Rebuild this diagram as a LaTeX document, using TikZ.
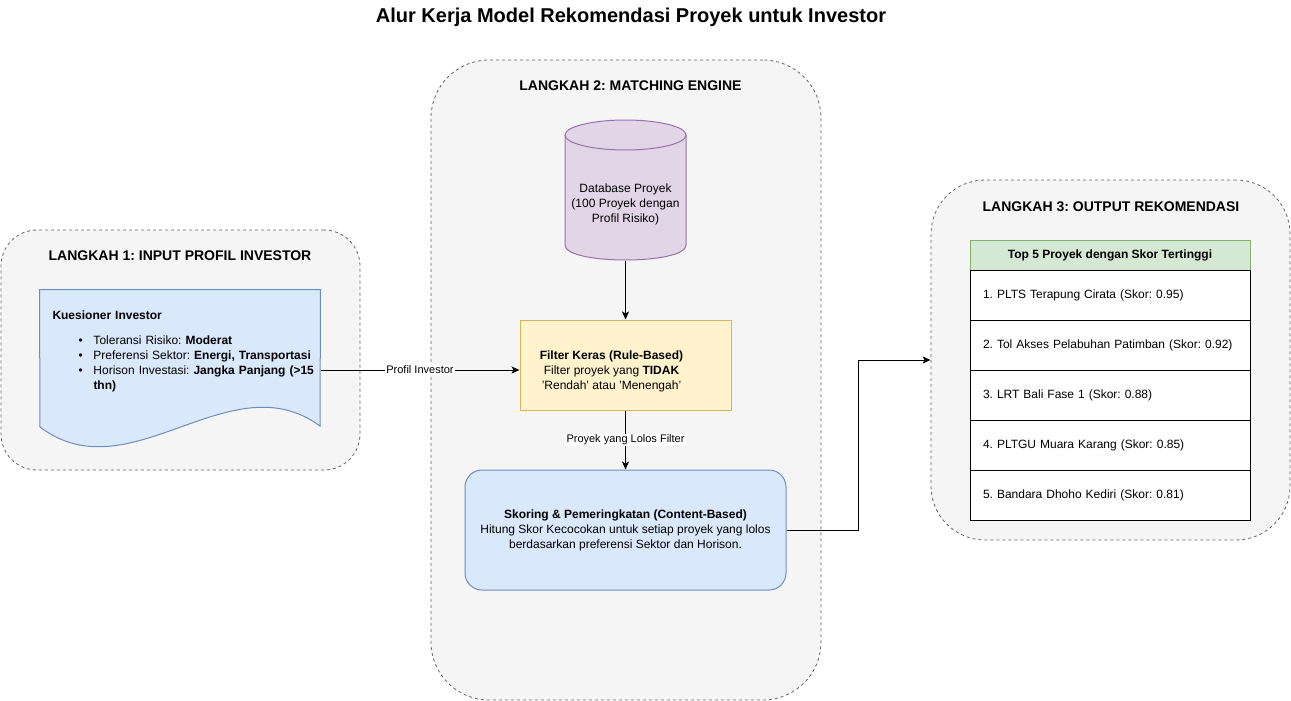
\documentclass[tikz,border=0pt]{standalone}
\usepackage{fontspec}
\setmainfont{Liberation Sans}
\usetikzlibrary{positioning,arrows.meta}
\frenchspacing
\definecolor{stepfill}{HTML}{F5F5F5}
\definecolor{stepline}{HTML}{666666}
\definecolor{bluefill}{HTML}{DAE8FC}
\definecolor{blueline}{HTML}{6C8EBF}
\definecolor{purplefill}{HTML}{E1D5E7}
\definecolor{purpleline}{HTML}{9673A6}
\definecolor{yellowfill}{HTML}{FFF2CC}
\definecolor{yellowline}{HTML}{D6B656}
\definecolor{greenfill}{HTML}{D5E8D4}
\definecolor{greenline}{HTML}{82B366}
\begin{document}
\begin{tikzpicture}[x=1pt, y=-1pt, line width=1pt,
    >={Stealth[length=8pt,width=7pt,inset=2pt]},
    font=\fontsize{12}{15}\selectfont,
    stepbox/.style={draw=stepline, fill=stepfill, line width=0.8pt, dash pattern=on 3pt off 3pt, rounded corners=#1},
    steptitle/.style={font=\fontsize{14}{17}\selectfont\bfseries},
    edgelabel/.style={fill=white, inner sep=1pt, font=\fontsize{11}{13}\selectfont},
    rowbox/.style={draw=black, fill=white, outer sep=0pt, minimum width=280pt, minimum height=50pt, text width=254pt, inner xsep=13pt, align=left}]
  \useasboundingbox (0,0) rectangle (1291,701);
  \node (title) at (631,17) {\fontsize{20}{24}\selectfont\bfseries Alur Kerja Model Rekomendasi Proyek untuk Investor};

  % langkah 1
  \node (step1) [stepbox=36pt, minimum width=359pt, minimum height=240pt] at (180.5,350) {};
  \node (step1title) [steptitle] at (180,256) {LANGKAH 1: INPUT PROFIL INVESTOR};
  \node (doc) [minimum width=280pt, minimum height=160pt, inner sep=0pt] at (180,370) {};
  \draw[draw=blueline, fill=bluefill] (doc.north west) -- (doc.north east) -- (320,426)
    .. controls (230,360) and (130,495) .. (40,427) -- cycle;
  \node (doctext) [anchor=north west, text width=265pt, inner sep=0pt, align=left] at (52,310.5)
    {\textbf{Kuesioner Investor}\\[10pt]
     \hspace*{26pt}\makebox[15pt][l]{\textbullet}Toleransi Risiko: \textbf{Moderat}\\
     \hspace*{26pt}\makebox[15pt][l]{\textbullet}Preferensi Sektor: \textbf{Energi, Transportasi}\\
     \hspace*{26pt}\makebox[15pt][l]{\textbullet}Horison Investasi: \textbf{Jangka Panjang (>15}\\
     \hspace*{41pt}\textbf{thn)}};

  % langkah 2
  \node (step2) [stepbox=58pt, minimum width=390pt, minimum height=640pt] at (626,380) {};
  \node (step2title) [steptitle] at (630.5,86) {LANGKAH 2: MATCHING ENGINE};
  \node (db) [minimum width=121pt, minimum height=140pt, inner sep=0pt] at (625.5,190) {};
  \draw[draw=purpleline, fill=purplefill] (565,135) -- (565,245)
    .. controls (565,265) and (686,265) .. (686,245) -- (686,135) -- cycle;
  \draw[draw=purpleline, fill=purplefill] (625.5,135) ellipse [x radius=60.5, y radius=15];
  \node (dbtext) [align=center] at (625.5,204) {Database Proyek\\(100 Proyek dengan\\Profil Risiko)};
  \node (filter) [draw=yellowline, fill=yellowfill, minimum width=211pt, minimum height=90pt] at (625.5,365) {};
  \node (filtertext) [align=center] at ([shift={(-14,6)}]filter.center)
    {\textbf{Filter Keras (Rule-Based)}\\Filter proyek yang \textbf{TIDAK}\\'Rendah' atau 'Menengah'};
  \node (score) [draw=blueline, fill=bluefill, rounded corners=17pt, minimum width=321pt, minimum height=120pt, align=center] at (625.5,530)
    {\textbf{Skoring \& Pemeringkatan (Content-Based)}\\Hitung Skor Kecocokan untuk setiap proyek yang lolos\\berdasarkan preferensi Sektor dan Horison.};

  % langkah 3
  \node (step3) [stepbox=54pt, minimum width=359pt, minimum height=360pt] at (1110.5,360) {};
  \node (step3title) [steptitle] at (1111,207) {LANGKAH 3: OUTPUT REKOMENDASI};
  \node (thead) [draw=greenline, fill=greenfill, outer sep=0pt, minimum width=280pt, minimum height=30pt] at (1110,255)
    {\bfseries Top 5 Proyek dengan Skor Tertinggi};
  \node (row1) [rowbox, below=0pt of thead] {1. PLTS Terapung Cirata (Skor: 0.95)};
  \node (row2) [rowbox, below=0pt of row1] {2. Tol Akses Pelabuhan Patimban (Skor: 0.92)};
  \node (row3) [rowbox, below=0pt of row2] {3. LRT Bali Fase 1 (Skor: 0.88)};
  \node (row4) [rowbox, below=0pt of row3] {4. PLTGU Muara Karang (Skor: 0.85)};
  \node (row5) [rowbox, below=0pt of row4] {5. Bandara Dhoho Kediri (Skor: 0.81)};

  \draw[->] (doc.east) -- node[edgelabel] {Profil Investor} (doc.east -| filter.west);
  \draw[->] (db.south) -- (filter.north);
  \draw[->] (filter.south) -- node[edgelabel] {Proyek yang Lolos Filter} (score.north);
  \draw[->] (score.east) -- ++(72,0) |- (step3.west);
\end{tikzpicture}
\end{document}
